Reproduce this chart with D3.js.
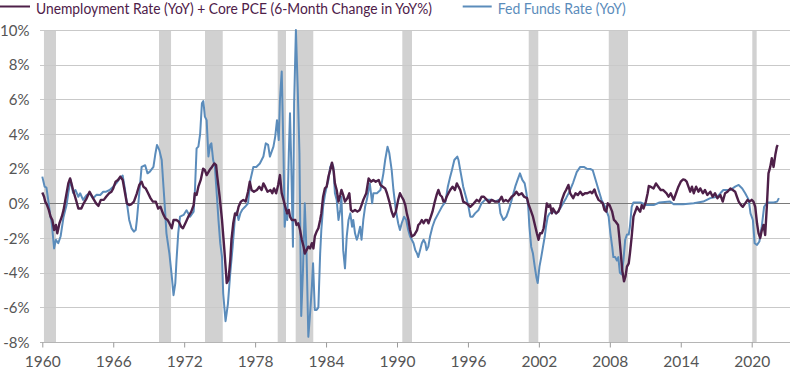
<!DOCTYPE html>
<html><head><meta charset="utf-8">
<script src="https://cdn.jsdelivr.net/npm/d3@7"></script>
<style>
html,body{margin:0;padding:0;background:#fff;}
svg{display:block;font-family:Lato,"Open Sans",sans-serif;}
</style></head>
<body>
<svg id="chart" width="800" height="375"></svg>
<script>
const seriesNames = ["Unemployment Rate (YoY) + Core PCE (6-Month Change in YoY%)", "Fed Funds Rate (YoY)"];
const xTicks = [1960, 1966, 1972, 1978, 1984, 1990, 1996, 2002, 2008, 2014, 2020];
const yTicks = [-8, -6, -4, -2, 0, 2, 4, 6, 8, 10];
const recessionStarts = [1960.14, 1969.87, 1973.76, 1979.91, 1981.43, 1990.45, 2001.14, 2007.91, 2020.05];
const recessionEnds   = [1961.16, 1970.89, 1975.26, 1980.61, 1982.92, 1991.27, 2001.95, 2009.54, 2020.42];

const fedDates = [1960.0,1960.2,1960.35,1960.5,1960.65,1960.8,1961.0,1961.15,1961.35,1961.55,1961.8,1962.05,1962.2,1962.4,1962.6,1962.8,1963.05,1963.2,1963.45,1963.75,1964.0,1964.3,1964.6,1964.9,1965.15,1965.4,1965.7,1966.0,1966.25,1966.55,1966.8,1967.0,1967.2,1967.35,1967.55,1967.75,1967.9,1968.0,1968.2,1968.4,1968.7,1968.9,1969.1,1969.4,1969.55,1969.7,1969.9,1970.1,1970.25,1970.4,1970.5,1970.75,1970.95,1971.1,1971.25,1971.35,1971.5,1971.65,1971.95,1972.2,1972.5,1972.8,1972.9,1973.05,1973.2,1973.35,1973.5,1973.62,1973.75,1973.9,1974.05,1974.2,1974.3,1974.45,1974.6,1974.75,1974.9,1975.05,1975.2,1975.3,1975.5,1975.7,1975.9,1976.1,1976.3,1976.45,1976.6,1976.75,1976.9,1977.15,1977.4,1977.6,1977.85,1978.1,1978.4,1978.55,1978.7,1978.9,1979.1,1979.25,1979.4,1979.55,1979.7,1979.85,1980.0,1980.1,1980.25,1980.4,1980.5,1980.6,1980.72,1980.85,1980.95,1981.05,1981.2,1981.3,1981.45,1981.6,1981.75,1981.9,1982.05,1982.2,1982.35,1982.5,1982.65,1982.8,1982.9,1983.05,1983.2,1983.35,1983.5,1983.6,1983.75,1983.9,1984.05,1984.2,1984.35,1984.5,1984.62,1984.75,1984.9,1985.05,1985.2,1985.3,1985.45,1985.6,1985.75,1985.9,1986.05,1986.2,1986.3,1986.45,1986.6,1986.7,1986.88,1987.0,1987.15,1987.3,1987.45,1987.7,1987.9,1988.0,1988.3,1988.6,1988.85,1989.0,1989.2,1989.35,1989.55,1989.7,1989.9,1990.1,1990.25,1990.4,1990.6,1990.78,1990.95,1991.1,1991.25,1991.4,1991.55,1991.7,1991.8,1991.95,1992.1,1992.25,1992.4,1992.5,1992.65,1992.8,1993.0,1993.2,1993.5,1993.8,1994.1,1994.3,1994.5,1994.65,1994.85,1995.1,1995.2,1995.35,1995.5,1995.6,1995.9,1996.05,1996.2,1996.4,1996.6,1996.9,1997.15,1997.45,1997.7,1998.0,1998.3,1998.6,1998.75,1999.0,1999.25,1999.45,1999.7,2000.0,2000.2,2000.4,2000.6,2000.8,2000.95,2001.1,2001.2,2001.35,2001.5,2001.65,2001.8,2001.9,2002.05,2002.2,2002.35,2002.5,2002.6,2002.75,2002.9,2003.2,2003.5,2003.8,2004.05,2004.3,2004.6,2004.9,2005.2,2005.5,2005.8,2006.05,2006.35,2006.55,2006.8,2007.05,2007.3,2007.6,2007.9,2008.05,2008.2,2008.3,2008.45,2008.6,2008.72,2008.85,2009.0,2009.15,2009.3,2009.45,2009.6,2009.7,2009.85,2010.0,2010.3,2010.6,2011.1,2011.7,2012.2,2013.1,2013.4,2014.2,2015.1,2015.9,2016.5,2017.1,2017.35,2017.6,2018.2,2018.6,2018.9,2019.2,2019.45,2019.75,2019.9,2020.1,2020.25,2020.45,2020.65,2020.85,2021.05,2021.3,2021.85,2022.15,2022.3];
const fedValues = [1.54,0.96,0.9,0.2,-0.6,-1.15,-2.6,-2.1,-2.3,-1.9,-0.77,-0.1,0.6,1.35,0.6,0.77,0.38,0.58,0.2,0.48,0.58,0.29,0.5,0.48,0.67,0.67,0.77,0.96,1.15,1.44,1.6,0.77,-0.2,-0.96,-1.44,-1.63,-1.54,-0.96,0.58,2.1,2.2,1.73,1.83,2.1,2.8,3.37,3.07,2.5,0.96,-0.58,-1.73,-2.9,-4.2,-5.3,-4.6,-3.3,-1.7,-0.77,-0.67,-0.4,-0.77,-0.48,0.58,3.17,3.27,4.0,5.77,5.9,5.0,4.8,2.7,3.37,3.46,2.5,2.1,0.58,-0.96,-2.3,-3.1,-5.2,-6.8,-5.8,-4.0,-2.5,-0.77,-0.48,-0.96,-0.58,-0.38,-0.2,0,1.35,2.1,2.1,2.3,2.5,2.7,3.46,3.37,2.7,2.98,3.27,3.85,4.8,3.65,5.96,7.6,2.9,-1.35,-0.6,-0.96,2.9,5.2,2.5,-2.5,5.77,10.0,6.7,2.9,-6.5,-3.85,0,-2.9,-7.7,-6.35,-4.8,-3.46,-6.15,-6.15,-6.0,-2.9,-1.54,-0.2,0.48,0.96,1.35,2.1,2.3,2.1,0.58,0.2,-0.96,-0.38,0.38,-2.7,-3.75,-1.9,-0.96,-0.58,-1.35,-0.96,-1.73,-2.1,-1.9,-1.35,-2.1,-0.96,-0.2,0.2,1.15,0,0.58,0.58,0.77,1.73,2.5,3.27,2.9,1.92,0.77,-0.38,-1.15,-1.54,-1.15,-0.77,-0.96,-1.54,-1.9,-2.1,-2.3,-2.7,-2.9,-3.1,-2.7,-2.3,-2.1,-2.3,-2.7,-2.5,-1.9,-1.35,-0.96,-0.58,-0.2,0.1,0.96,1.54,1.92,2.5,2.7,2.5,1.92,1.35,0.96,0.2,-0.2,-0.77,-0.77,-0.58,-0.38,0,0.2,0.2,0.2,0.1,0.2,-0.58,-0.96,-0.77,-0.38,0.2,0.96,1.35,1.73,1.35,1.15,0.58,-0.2,-1.35,-2.5,-2.9,-3.65,-4.3,-4.6,-3.65,-3.1,-2.5,-1.9,-1.35,-0.77,-0.58,-0.48,-0.58,-0.3,0.0,0.3,0.7,1.2,1.8,2.1,2.1,2.0,1.98,1.92,1.35,0.77,0.2,-0.2,-0.77,-1.73,-2.5,-3.1,-3.1,-3.3,-3.1,-4.0,-4.1,-3.3,-2.1,-1.8,-1.8,-1.35,-0.2,0.05,0.05,0.05,-0.1,-0.1,0.05,0.1,-0.05,-0.05,0,0.1,0.3,0.38,0.58,0.77,0.77,0.96,1.06,0.86,0.58,0.2,-0.58,-0.96,-2.3,-2.4,-2.2,-1.35,-0.2,0.05,0.05,0.1,0.3];

const unempDates = [1960.0,1960.15,1960.25,1960.4,1960.55,1960.7,1960.85,1961.0,1961.15,1961.27,1961.45,1961.65,1961.8,1962.0,1962.2,1962.35,1962.5,1962.6,1962.85,1963.05,1963.3,1963.5,1963.75,1964.0,1964.3,1964.55,1964.75,1964.95,1965.2,1965.4,1965.65,1965.85,1966.0,1966.2,1966.4,1966.6,1966.8,1967.0,1967.15,1967.35,1967.55,1967.75,1968.0,1968.2,1968.4,1968.55,1968.75,1968.95,1969.15,1969.35,1969.6,1969.8,1970.0,1970.2,1970.4,1970.6,1970.75,1970.95,1971.1,1971.35,1971.55,1971.75,1971.9,1972.1,1972.35,1972.6,1972.8,1972.9,1973.05,1973.2,1973.4,1973.6,1973.75,1973.9,1974.15,1974.35,1974.55,1974.7,1974.8,1975.0,1975.2,1975.4,1975.6,1975.75,1975.9,1976.0,1976.15,1976.3,1976.45,1976.6,1976.8,1977.0,1977.2,1977.4,1977.55,1977.7,1977.9,1978.15,1978.35,1978.55,1978.7,1978.85,1979.05,1979.3,1979.45,1979.6,1979.78,1979.95,1980.1,1980.25,1980.4,1980.55,1980.7,1980.85,1980.95,1981.1,1981.25,1981.4,1981.5,1981.65,1981.8,1981.95,1982.1,1982.2,1982.35,1982.5,1982.65,1982.8,1982.93,1983.05,1983.2,1983.35,1983.5,1983.6,1983.75,1983.9,1984.05,1984.2,1984.35,1984.5,1984.65,1984.75,1984.9,1985.05,1985.2,1985.3,1985.45,1985.6,1985.8,1985.97,1986.1,1986.25,1986.45,1986.65,1986.85,1987.0,1987.15,1987.4,1987.6,1987.8,1988.0,1988.2,1988.45,1988.6,1988.8,1989.0,1989.15,1989.35,1989.55,1989.7,1989.9,1990.1,1990.25,1990.4,1990.55,1990.7,1990.83,1990.97,1991.1,1991.25,1991.45,1991.7,1991.8,1991.95,1992.1,1992.25,1992.4,1992.55,1992.66,1992.86,1993.0,1993.2,1993.35,1993.5,1993.65,1993.8,1993.93,1994.05,1994.2,1994.35,1994.5,1994.7,1994.9,1995.06,1995.2,1995.35,1995.5,1995.6,1995.85,1996.05,1996.2,1996.5,1996.75,1996.95,1997.15,1997.35,1997.6,1997.8,1998.0,1998.3,1998.6,1998.85,1999.0,1999.2,1999.4,1999.7,1999.9,2000.1,2000.3,2000.55,2000.75,2001.0,2001.1,2001.3,2001.5,2001.7,2001.83,2001.97,2002.1,2002.25,2002.4,2002.5,2002.67,2002.8,2002.95,2003.1,2003.2,2003.45,2003.65,2003.8,2003.95,2004.15,2004.3,2004.5,2004.65,2004.9,2005.1,2005.3,2005.5,2005.7,2005.9,2006.1,2006.35,2006.5,2006.7,2006.85,2007.05,2007.25,2007.4,2007.55,2007.7,2007.83,2007.98,2008.2,2008.35,2008.5,2008.7,2008.8,2008.93,2009.05,2009.2,2009.33,2009.45,2009.6,2009.7,2009.85,2010.0,2010.15,2010.3,2010.45,2010.57,2010.7,2010.85,2011.05,2011.2,2011.3,2011.45,2011.7,2011.9,2012.1,2012.3,2012.5,2012.8,2012.97,2013.15,2013.4,2013.6,2013.8,2014.0,2014.2,2014.35,2014.5,2014.65,2014.8,2014.95,2015.1,2015.3,2015.5,2015.65,2015.87,2016.05,2016.25,2016.5,2016.7,2016.9,2017.1,2017.35,2017.55,2017.75,2017.95,2018.2,2018.4,2018.6,2018.75,2018.9,2019.1,2019.25,2019.45,2019.65,2019.82,2020.0,2020.15,2020.3,2020.45,2020.58,2020.72,2020.86,2021.0,2021.14,2021.28,2021.42,2021.57,2021.7,2021.85,2022.0,2022.13,2022.2];
const unempValues = [0.62,0.38,0.1,-0.1,-0.38,-0.77,-0.96,-1.54,-1.25,-1.73,-1.15,-0.77,-0.38,0.38,1.15,1.44,1.06,0.77,0.2,-0.3,-0.3,0,0.29,0.67,0.29,0,-0.15,0.2,0.2,0.38,0.58,0.67,0.86,1.25,1.35,1.54,1.35,0.58,0,-0.1,-0.04,0.1,0.58,1.06,1.25,0.96,0.86,0.58,0.3,0.1,0.1,-0.3,-0.2,-0.58,-0.86,-0.96,-1.15,-1.44,-0.96,-0.96,-1.06,-1.35,-1.44,-1.15,-0.77,-0.48,-0.1,0.58,0.48,0.96,1.35,2.0,1.92,1.63,1.92,2.1,2.3,2.2,1.54,0.38,-0.96,-2.7,-4.6,-4.4,-3.27,-2.1,-1.15,-0.58,-0.67,-0.2,0.1,0.2,0.1,0.67,1.25,0.77,0.67,0.77,0.96,0.77,1.15,0.96,0.67,0.77,0.58,0.86,0.58,1.06,1.63,0.58,0.2,-0.2,-0.58,-0.38,-0.77,-0.96,-0.96,-0.96,-1.25,-1.15,-1.54,-2.1,-2.5,-2.9,-2.7,-2.5,-2.6,-2.3,-2.6,-1.9,-1.63,-1.44,-0.96,-0.58,0.38,0.86,0.96,1.54,1.92,2.35,1.83,1.15,0.77,0.1,0.48,0.77,0.48,0.1,0.29,0.58,-0.38,-0.48,-0.38,-0.48,-0.38,-0.1,0.2,0.58,1.44,1.25,1.35,1.25,1.35,1.06,0.96,0.86,0.58,0.1,-0.48,-0.77,-0.48,0.2,0.58,0.38,0.2,-0.1,-0.58,-0.96,-1.54,-1.92,-1.83,-1.54,-1.25,-1.15,-0.96,-1.15,-0.96,-0.96,-1.15,-0.77,-0.48,0.1,0.48,0.77,0.48,0.38,0.1,0.1,0.38,0.58,0.77,0.96,0.77,1.15,0.96,0.77,0.38,0.1,0,-0.1,-0.2,0,0.2,0.1,0.38,0.38,0.2,0.04,0.2,0.1,0.1,0.38,0.1,0.2,0.1,0.38,0.48,0.67,0.48,0.58,0.38,0.3,0,-0.38,-0.77,-1.35,-1.73,-2.1,-1.73,-1.73,-1.44,-0.96,0,-0.2,-0.1,-0.58,-0.3,-0.58,-0.48,-0.2,0.2,0.58,0.77,1.06,0.58,0.3,0.58,0.48,0.67,0.48,0.58,0.58,0.67,0.58,0.8,0.48,0.2,0.1,0,-0.38,-0.48,0,-0.1,-0.48,-0.96,-1.06,-1.25,-1.92,-2.9,-3.85,-4.5,-4.2,-3.65,-3.46,-2.9,-1.92,-0.77,-0.48,-0.2,-0.38,-0.48,-0.1,-0.3,0.1,0.58,1.0,0.96,0.86,1.15,0.96,0.77,0.77,0.58,0.38,0.58,0.2,0.58,0.96,1.25,1.38,1.35,1.25,0.96,0.67,0.96,0.58,0.96,0.67,0.86,0.58,0.77,0.48,0.67,0.38,0.58,0.29,0.48,0.1,0.58,0.67,0.86,0.77,0.67,0.38,0.1,-0.1,-0.2,0,0.2,0.1,0.2,0.1,-0.2,-1.15,-1.73,-2.0,-1.54,-1.25,-1.83,-0.2,1.73,2.1,2.6,2.1,2.8,3.27,3.37];

const colors = {unemp: "#4e2049", fed: "#5b8cbb"};

const svg = d3.select("#chart");
const x = d3.scaleLinear().domain([1960, 2023.24]).range([42.3, 790]);
const y = d3.scaleLinear().domain([-8, 10]).range([342, 30]);

// recession bands
svg.append("g").selectAll("rect").data(recessionStarts).join("rect")
  .attr("x", (d) => x(d))
  .attr("width", (d, i) => x(recessionEnds[i]) - x(d))
  .attr("y", y(10)).attr("height", y(-8) - y(10))
  .attr("fill", "#d1d1d1");

// gridlines
svg.append("g").selectAll("line").data(yTicks.filter(t => t !== -8 && t !== 0)).join("line")
  .attr("x1", 40).attr("x2", 790)
  .attr("y1", d => Math.round(y(d)) + 0.5).attr("y2", d => Math.round(y(d)) + 0.5)
  .attr("stroke", "#c9c9c9").attr("stroke-width", 1);

// x axis
const xAxis = d3.axisBottom(x).tickValues(xTicks).tickFormat(d3.format("d")).tickSize(5).tickPadding(8);
const gx = svg.append("g").attr("transform", `translate(0,${Math.round(y(-8)) + 0.5})`).call(xAxis);
gx.select(".domain").attr("stroke", "#b5b5b5").attr("d", `M40,0H790`);
gx.selectAll(".tick line").attr("stroke", "#9a9a9a");
gx.selectAll(".tick text").attr("fill", "#555").style("font-size", "15.5px").style("font-family", "Lato, sans-serif");

// y labels
const yAxis = d3.axisLeft(y).tickValues(yTicks).tickFormat(d => d + "%").tickSize(0).tickPadding(0);
const gy = svg.append("g").attr("transform", "translate(29.5,0)").call(yAxis);
gy.select(".domain").remove();
gy.selectAll(".tick text").attr("fill", "#555").attr("dy", "0.34em").style("font-size", "15px").style("font-family", "Lato, sans-serif");

// zero line
svg.append("line").attr("x1", 40).attr("x2", 790)
  .attr("y1", Math.round(y(0)) + 0.5).attr("y2", Math.round(y(0)) + 0.5)
  .attr("stroke", "#7a7a7a").attr("stroke-width", 1);

const fedData = fedDates.map((d, i) => [d, fedValues[i]]);
const unempData = unempDates.map((d, i) => [d, unempValues[i]]);
const line = d3.line().x(d => x(d[0])).y(d => y(d[1]));

svg.append("path").datum(fedData).attr("d", line)
  .attr("fill", "none").attr("stroke", colors.fed).attr("stroke-width", 2).attr("stroke-linejoin", "round");
svg.append("path").datum(unempData).attr("d", line)
  .attr("fill", "none").attr("stroke", colors.unemp).attr("stroke-width", 2.4).attr("stroke-linejoin", "round");

// legend
const lg = svg.append("g");
lg.append("line").attr("x1", 0).attr("x2", 30).attr("y1", 6.5).attr("y2", 6.5).attr("stroke", colors.unemp).attr("stroke-width", 2);
lg.append("text").attr("x", 36).attr("y", 13.5).text(seriesNames[0])
  .attr("fill", colors.unemp).style("font-size", "14.5px")
  .attr("textLength", 396).attr("lengthAdjust", "spacingAndGlyphs");
lg.append("line").attr("x1", 462.7).attr("x2", 491.7).attr("y1", 6.5).attr("y2", 6.5).attr("stroke", colors.fed).attr("stroke-width", 2);
lg.append("text").attr("x", 497.7).attr("y", 13.5).text(seriesNames[1])
  .attr("fill", colors.fed).style("font-size", "14.5px")
  .attr("textLength", 128).attr("lengthAdjust", "spacingAndGlyphs");
</script>
</body></html>
